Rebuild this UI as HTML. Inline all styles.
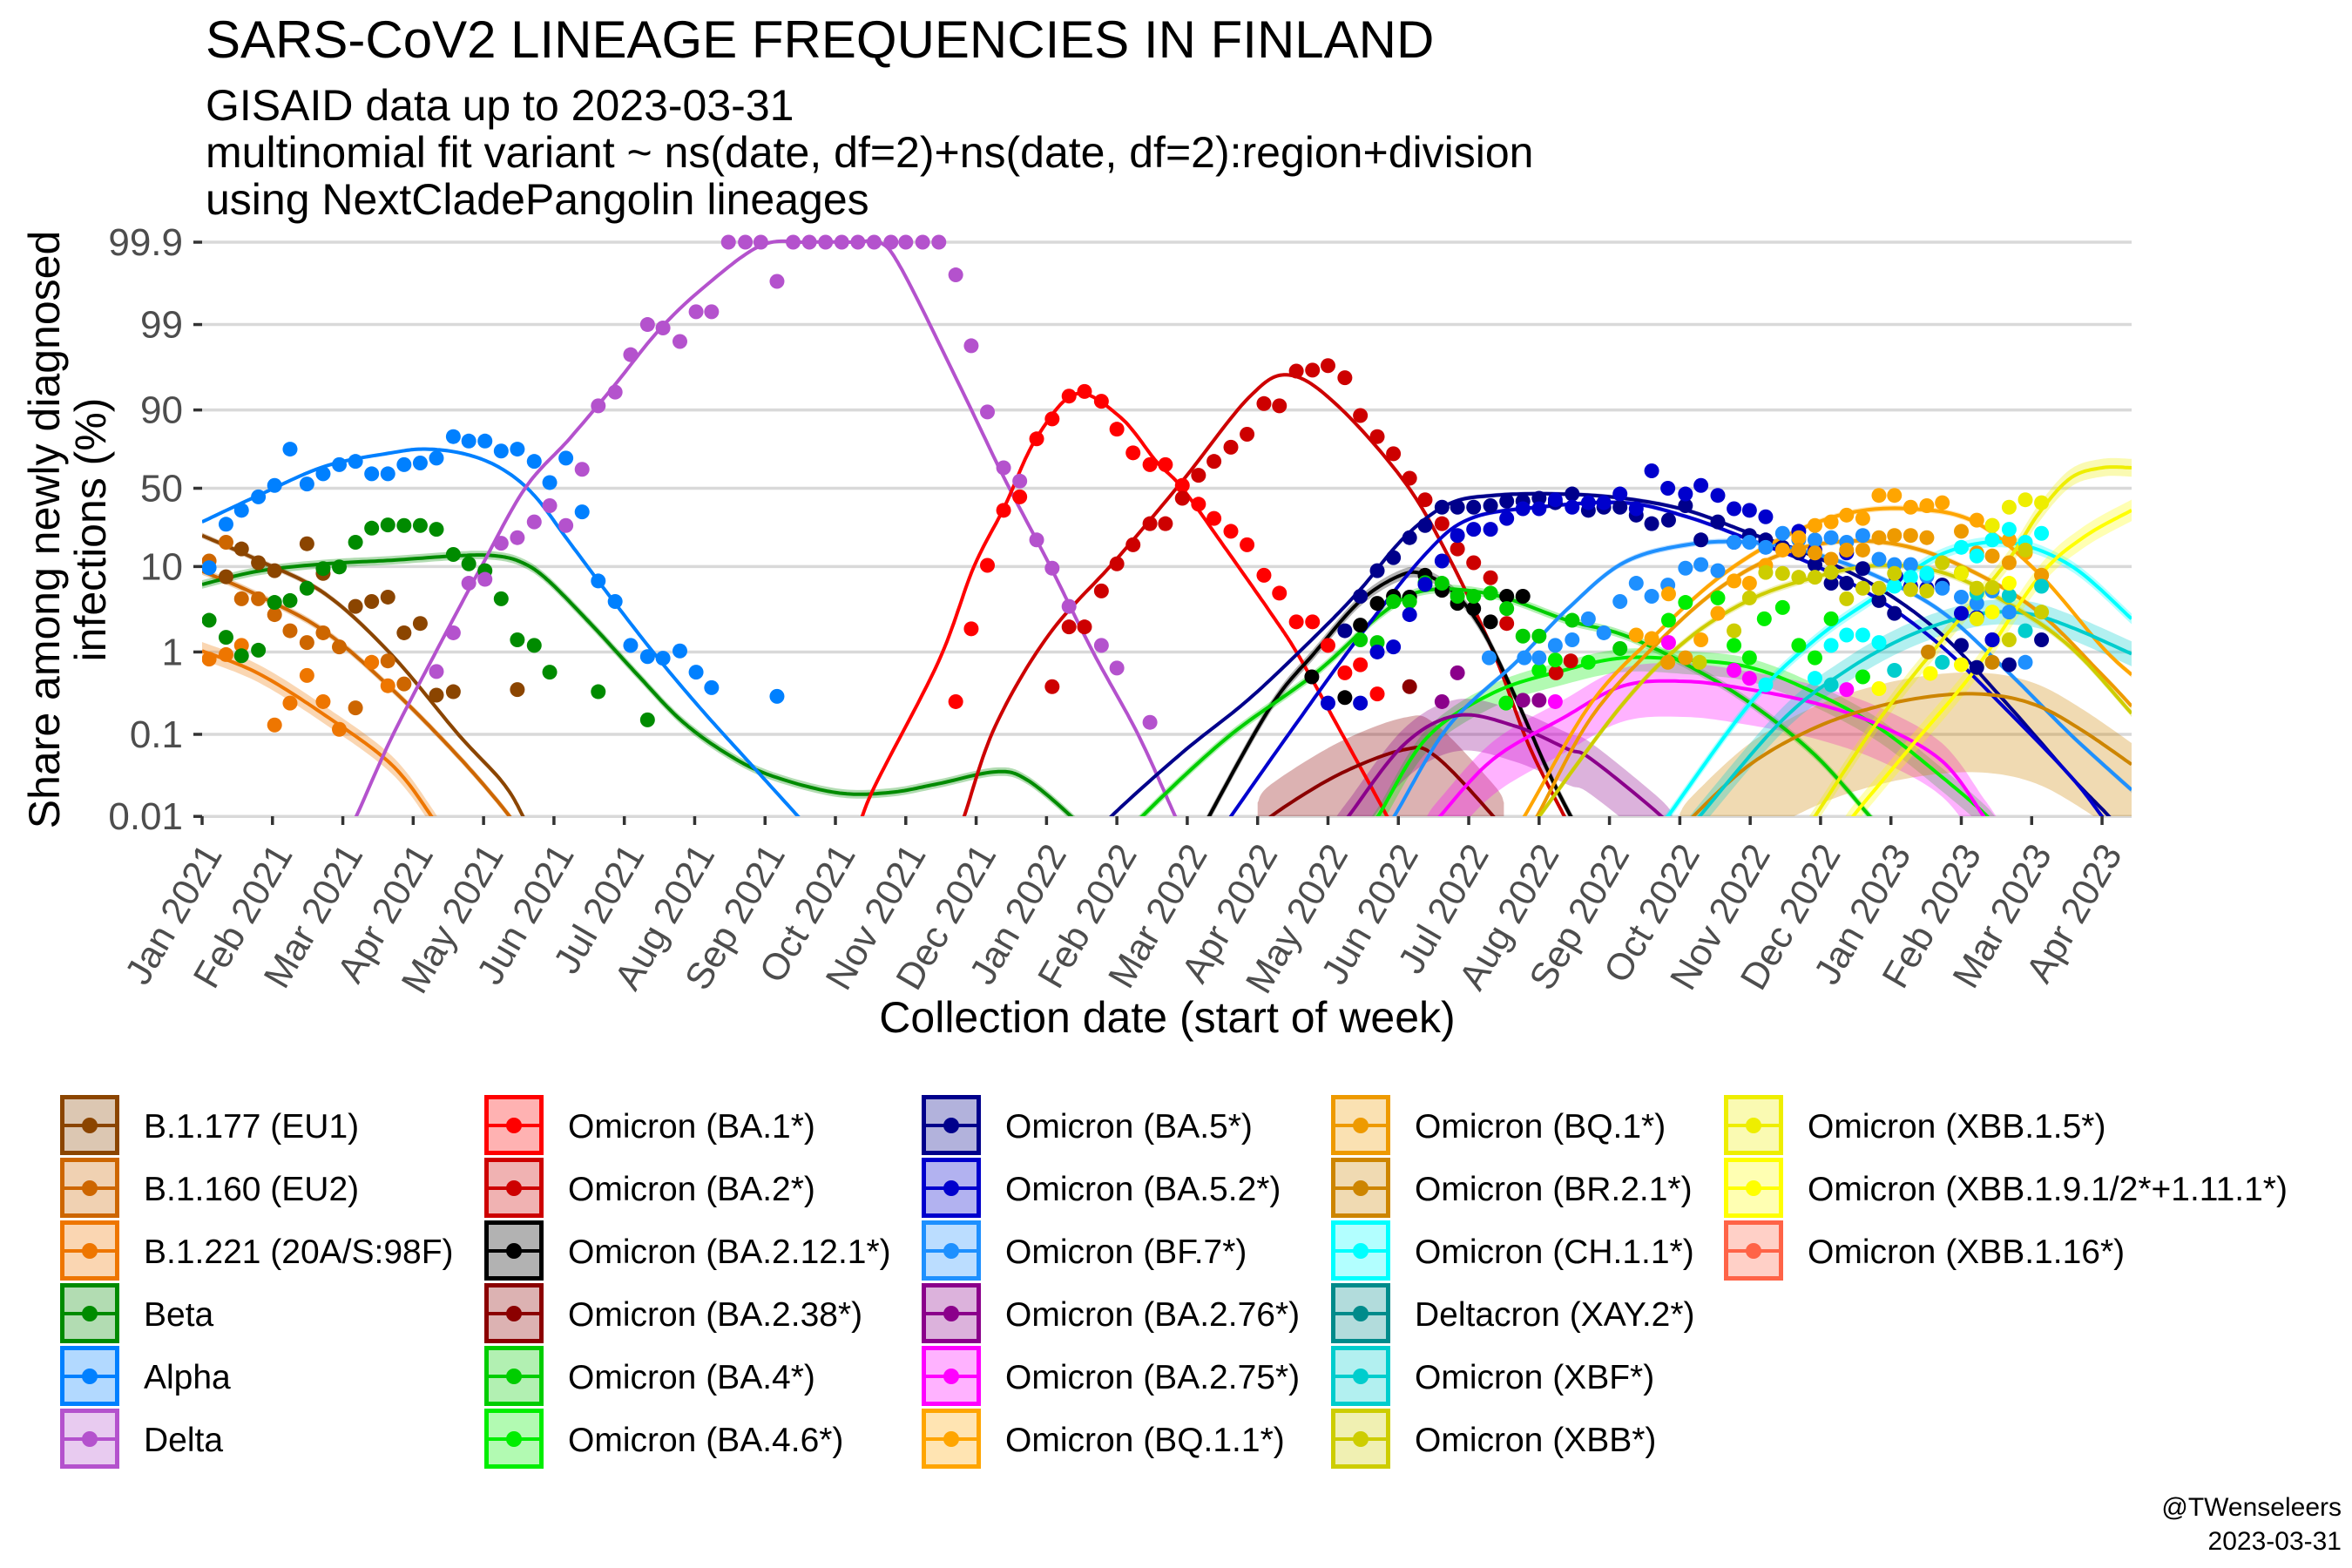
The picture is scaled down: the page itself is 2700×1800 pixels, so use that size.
<!DOCTYPE html>
<html><head><meta charset="utf-8"><title>SARS-CoV2 lineage frequencies in Finland</title>
<style>
html,body{margin:0;padding:0;background:#fff;}
svg{display:block;font-family:"Liberation Sans",Arial,sans-serif;}
</style></head>
<body>
<svg id="chart" width="2700" height="1800" viewBox="0 0 2700 1800" xmlns="http://www.w3.org/2000/svg">
<defs><clipPath id="panelClip"><rect x="232" y="240" width="2215" height="697"/></clipPath></defs>
<rect width="2700" height="1800" fill="#fff"/>
<text x="236" y="66" font-size="60" fill="#000">SARS-CoV2 LINEAGE FREQUENCIES IN FINLAND</text>
<text x="236" y="138" font-size="50" fill="#000">GISAID data up to 2023-03-31</text>
<text x="236" y="192" font-size="50" fill="#000">multinomial fit variant ~ ns(date, df=2)+ns(date, df=2):region+division</text>
<text x="236" y="246" font-size="50" fill="#000">using NextCladePangolin lineages</text>
<g id="grid"></g>
<g id="yaxis"></g>
<g id="xaxis"></g>
<g clip-path="url(#panelClip)">
<g id="ribbons"></g>
<g id="lines"></g>
<g id="points"></g>
</g>
<text transform="translate(68,608) rotate(-90)" text-anchor="middle" font-size="50" fill="#000">Share among newly diagnosed</text>
<text transform="translate(121,608) rotate(-90)" text-anchor="middle" font-size="50" fill="#000">infections (%)</text>
<text x="1340" y="1185" text-anchor="middle" font-size="50" fill="#000">Collection date (start of week)</text>
<g id="legend"></g>
<text x="2688" y="1740" text-anchor="end" font-size="30" fill="#000">@TWenseleers</text>
<text x="2688" y="1779" text-anchor="end" font-size="30" fill="#000">2023-03-31</text>
</svg>
<script>
// ---------- axis data ----------
const yTickValues = [99.9, 99, 90, 50, 10, 1, 0.1, 0.01];
const yTickLabels = ["99.9", "99", "90", "50", "10", "1", "0.1", "0.01"];
const xTickMonths = [0,1,2,3,4,5,6,7,8,9,10,11,12,13,14,15,16,17,18,19,20,21,22,23,24,25,26,27];
const xTickLabels = ["Jan 2021","Feb 2021","Mar 2021","Apr 2021","May 2021","Jun 2021","Jul 2021","Aug 2021","Sep 2021","Oct 2021","Nov 2021","Dec 2021","Jan 2022","Feb 2022","Mar 2022","Apr 2022","May 2022","Jun 2022","Jul 2022","Aug 2022","Sep 2022","Oct 2022","Nov 2022","Dec 2022","Jan 2023","Feb 2023","Mar 2023","Apr 2023"];

// ---------- series data (months since Jan 2021, percent) ----------
const b1177FitM = [0,0.8,1.75,2.69,3.64,4.27,4.56,4.75];
const b1177FitP = [21,11.7,4.9,0.93,0.1,0.026,0.01,0.004];
const b1177PtM = [0.34,0.56,0.8,1.03,1.49,1.72,2.18,2.41,2.64,2.87,3.1,3.33,3.57,4.48];
const b1177PtP = [7.7,15.4,11,9,17.4,8.4,3.5,4,4.5,1.7,2.2,0.3,0.33,0.35];

const b1160FitM = [0,0.8,1.75,2.69,3.64,4.37,4.55];
const b1160FitP = [8.9,4.7,1.75,0.36,0.054,0.01,0.005];
const b1160PtM = [0.1,0.34,0.56,0.8,1.03,1.25,1.49,1.72,1.95,2.18,2.64,2.87];
const b1160PtP = [11.5,18,4.3,4.3,2.8,1.8,1.3,1.7,1.15,0.21,0.78,0.41];

const b1221FitM = [0,0.8,1.75,2.69,3.26,3.45];
const b1221FitP = [1.03,0.55,0.17,0.043,0.01,0.005];
const b1221PtM = [0.1,0.34,0.56,1.03,1.25,1.49,1.72,1.95,2.41,2.64];
const b1221PtP = [0.82,0.93,1.2,0.13,0.24,0.52,0.25,0.115,0.75,0.39];

const betaFitM = [0,0.8,1.75,2.69,3.64,4.15,4.53,4.9,5.54,6.17,6.8,7.43,8.06,9.01,9.76,10.46,11.28,11.72,12.35,12.55];
const betaFitP = [6.3,8.9,10.7,11.7,13.1,13.1,11.2,7.2,2.1,0.55,0.15,0.06,0.032,0.0195,0.0195,0.025,0.035,0.028,0.01,0.006];
const betaPtM = [0.1,0.34,0.56,0.8,1.03,1.25,1.49,1.72,1.95,2.18,2.41,2.64,2.87,3.1,3.33,3.57,3.79,4.02,4.25,4.48,4.72,4.94,5.63,6.33];
const betaPtP = [2.4,1.5,0.9,1.05,3.9,4.1,5.7,9.5,9.9,18,24.6,26.3,26,26,24,13.5,10.7,9,4.3,1.4,1.2,0.57,0.33,0.15];

const alphaFitM = [0,0.8,1.75,2.69,3.2,3.77,4.27,4.72,5.22,5.85,6.48,7.12,7.75,8.47,8.7];
const alphaFitP = [28,45,65,73,75,72,63,45,18,4,0.84,0.19,0.048,0.01,0.006];
const alphaPtM = [0.1,0.34,0.56,0.8,1.03,1.25,1.49,1.72,1.95,2.18,2.41,2.64,2.87,3.1,3.33,3.57,3.79,4.02,4.25,4.48,4.72,4.94,5.17,5.4,5.63,5.87,6.09,6.33,6.55,6.79,7.02,7.24,8.17];
const alphaPtP = [9.7,26.7,35,44,52,75,53,60,66,68,60,60,66,67,70,81,79,79,74,75,68,54,70,34,6.9,4,1.2,0.88,0.84,1.03,0.57,0.37,0.29];

const deltaFitM = [2.0,2.19,2.69,3.33,3.96,4.59,5.22,5.85,6.48,7.12,7.94,8.6,9.3,9.63,9.95,10.77,11.4,12.03,12.66,13.3,13.83,14.0];
const deltaFitP = [0.005,0.01,0.09,1.03,9.7,50,80,94.6,98.8,99.64,99.89,99.9,99.9,99.9,99.78,94.6,57,10.9,1,0.1,0.01,0.005];
const deltaPtM = [3.33,3.57,3.79,4.02,4.25,4.48,4.72,4.94,5.17,5.4,5.63,5.87,6.09,6.33,6.55,6.79,7.02,7.24,7.48,7.72,7.94,8.17,8.4,8.63,8.86,9.09,9.32,9.55,9.79,10.0,10.24,10.47,10.71,10.93,11.16,11.39,11.62,11.86,12.08,12.32,12.78,13.0,13.47];
const deltaPtP = [0.58,1.7,6.5,7.2,17.6,20,28,38,26,63,91,93.7,97.7,99,98.9,98.4,99.3,99.3,99.9,99.9,99.9,99.7,99.9,99.9,99.9,99.9,99.9,99.9,99.9,99.9,99.9,99.9,99.75,98.2,89.5,64,55,19,9.6,3.5,1.2,0.64,0.14];

const ba1FitM = [9.3,9.51,10.46,10.96,11.4,11.85,12.42,13.05,13.56,13.93,14.56,15.19,15.57,16.14,16.84,17.0];
const ba1FitP = [0.005,0.019,0.75,9.6,37,80,93.4,88,68,50,15,2.9,0.94,0.125,0.01,0.005];
const ba1PtM = [10.71,10.93,11.16,11.39,11.62,11.86,12.08,12.32,12.54,12.78,13.0,13.23,13.47,13.69,13.93,14.16,14.38,14.62,14.85,15.09,15.31,15.55,15.78,16.0,16.24,16.46,16.7];
const ba1PtP = [0.25,1.9,10.3,35,44,80,87.5,93,93.8,92,84,73,66,66,52,39,30,23,17,8,5,2.3,2.3,1.2,0.56,0.7,0.31];

const ba2FitM = [10.7,10.83,11.27,12.03,12.99,13.93,14.88,15.45,16.14,17.08,17.71,18.35,18.85,19.36,19.5];
const ba2FitP = [0.005,0.01,0.125,1.6,11.9,55,92.8,96,91,55,12.9,1,0.075,0.01,0.006];
const ba2PtM = [12.08,12.32,12.54,12.78,13.0,13.23,13.47,13.69,13.93,14.16,14.38,14.62,14.85,15.09,15.31,15.55,15.78,16.0,16.24,16.46,16.7,16.93,17.16,17.38,17.62,17.84,18.07,18.31,18.54,19.24,19.45];
const ba2PtP = [0.38,2,2,5.3,10.7,17,27,27,43,59,68,76,82,91.5,91,96.4,96.5,96.9,95.7,88.5,81,72.5,57,42,27,15.4,11,7.5,2.2,0.56,0.78];

const ba2121FitM = [14.2,14.31,15.19,15.82,16.45,17.0,17.35,17.8,18.2,18.65,19.1,19.45,19.6];
const ba2121FitP = [0.006,0.01,0.22,1,4,7.8,8.3,5,1.8,0.3,0.04,0.01,0.006];
const ba2121PtM = [15.77,16.24,16.46,16.7,16.93,17.16,17.38,17.62,17.84,18.07,18.31,18.54,18.77];
const ba2121PtP = [0.5,0.28,2.1,3.8,4.6,4.5,8,5.4,3.8,3.3,2.3,4.6,4.6];

const ba238FitM = [15.0,15.19,16.14,17.08,17.53,18.35,18.5];
const ba238FitP = [0.006,0.01,0.032,0.065,0.054,0.01,0.006];
const ba238PtM = [17.16];
const ba238PtP = [0.38];

const ba4FitM = [13.2,13.36,14.56,15.82,16.77,17.4,18.35,19.4,20.2,21.1,22.0,22.92,23.7,23.9];
const ba4FitP = [0.006,0.01,0.09,0.55,2.9,5.4,4.8,2.4,1.6,0.7,0.24,0.056,0.01,0.006];
const ba4PtM = [16.46,16.7,16.93,17.16,17.38,17.62,17.84,18.07,18.31,18.54,18.77,19.0,19.47,20.15];
const ba4PtP = [1.4,1.3,4,4,6.6,6.5,4.6,4.6,5,3.3,1.55,1.55,2.4,1.1];

const ba46FitM = [16.5,16.71,17.4,18.35,19.35,20.2,21.1,22.0,22.92,23.83,24.73,25.37,25.55];
const ba46FitP = [0.006,0.01,0.09,0.32,0.6,0.85,0.8,0.65,0.32,0.12,0.03,0.01,0.006];
const ba46PtM = [18.53,19.0,19.23,19.7,20.84,21.08,21.54,21.77,21.99,22.2,22.46,22.69,22.92,23.15,23.6];
const ba46PtP = [0.24,0.6,0.8,0.75,2.4,3.9,4.4,1.2,0.85,2.5,3.4,1.2,0.85,2.5,0.5];

const ba5FitM = [12.75,12.92,13.93,14.88,15.82,16.45,17.08,17.71,18.35,19.29,20.2,21.1,22.0,22.92,23.83,24.73,25.64,26.55,27.1,27.3];
const ba5FitP = [0.006,0.01,0.06,0.27,1.55,5.4,20,39,45,46,43,35,22,12.8,5.7,1.6,0.24,0.031,0.01,0.006];
const ba5PtM = [16.24,16.46,16.7,16.93,17.16,17.38,17.62,17.84,18.07,18.31,18.54,18.77,19.0,19.23,19.47,19.7,19.92,20.15,20.38,20.6,20.84,21.08,21.3,21.54,21.77,21.99,22.22,22.46,22.69,22.92,23.15,23.37,23.6,23.83,24.05,24.73,25.0,25.22,25.44,25.68,26.14];
const ba5PtP = [1.8,4.6,9,12.5,20,26,37,37,37,38,41,41,43,40,46,35,37,37,32,27,29,38,19,28,18,21,19,16,14,10.5,6.5,6.5,9.5,4.1,2.9,6.2,1.2,0.65,1.4,0.7,1.4];

const ba52FitM = [14.45,14.62,15.52,16.45,17.4,18.03,18.98,20.2,21.1,22.0,22.92,23.83,24.73,25.64,26.55,27.0,27.2];
const ba52FitP = [0.006,0.01,0.125,1.55,14,30,37,40,31,19,10.3,4.2,1.15,0.2,0.031,0.01,0.006];
const ba52PtM = [16.0,16.46,16.7,16.93,17.16,17.38,17.62,17.84,18.07,18.31,18.54,18.77,19.0,19.23,19.47,19.7,19.92,20.15,20.38,20.6,20.83,21.08,21.3,21.54,21.77,21.99,22.22,22.69,22.92,23.37,24.07,24.28,24.51,25.0,25.22,25.44];
const ba52PtP = [0.24,0.24,1,1.15,2.8,6.3,11.5,21,24,24,30,36,36,42,37,40,40,46,36,62,50,46,52,45,36,35,31,23,15,14,7.8,6,5.7,2.9,2.6,1.4];

const bf7FitM = [16.75,16.94,17.71,18.67,19.41,20.2,21.1,22.0,22.92,23.83,24.73,25.64,26.55,27.42];
const bf7FitP = [0.006,0.01,0.125,0.75,3.3,11,17,18,13.7,7.6,3,0.6,0.1,0.021];
const bf7PtM = [18.29,18.79,19.0,19.23,19.47,19.7,19.92,20.15,20.38,20.6,20.83,21.08,21.3,21.54,21.77,21.99,22.22,22.46,22.69,22.92,23.15,23.37,23.6,23.83,24.05,24.28,24.51,24.73,25.0,25.22,25.44,25.68,25.91];
const bf7PtP = [0.85,0.85,0.85,1.2,1.4,2.5,1.7,4,6.5,4.6,6.2,9.6,10.5,9,18,18,16,22,19,19,20,18,21,12,10.5,10.5,7.8,5.7,4.5,3.8,5.3,3,0.75];

const ba276FitM = [16.1,16.29,17.08,17.84,18.67,19.41,19.74,20.74,20.9];
const ba276FitP = [0.006,0.01,0.075,0.17,0.125,0.066,0.05,0.01,0.006];
const ba276PtM = [17.62,17.84,18.77,19.0];
const ba276PtP = [0.25,0.56,0.26,0.26];

const ba275FitM = [17.4,17.59,18.35,19.35,20.2,21.1,22.0,22.92,23.83,24.73,25.32,25.5];
const ba275FitP = [0.006,0.01,0.05,0.16,0.39,0.44,0.35,0.24,0.13,0.047,0.01,0.006];
const ba275PtM = [19.23,20.84,21.77,21.99,23.37];
const ba275PtP = [0.25,1.3,0.6,0.48,0.35];

const bq11FitM = [18.6,18.79,19.74,20.65,21.56,22.46,23.37,24.28,25.19,26.1,27.0,27.42];
const bq11FitP = [0.006,0.01,0.24,1.6,7.6,20,33,36,28,8.4,1.15,0.53];
const bq11PtM = [20.38,20.6,20.84,21.3,21.54,21.77,21.99,22.22,22.46,22.69,22.92,23.15,23.37,23.6,23.83,24.05,24.28,24.51,24.73,25.22,25.44,25.68,25.91,26.14];
const bq11PtP = [1.6,1.45,4.9,1.4,2.9,6.9,6.5,10.3,15,20,26,28,32,30,45,45,37,38,40,29,26,19,14,8];

const bq1FitM = [18.8,18.97,19.74,20.65,21.56,22.46,23.37,24.28,25.19,26.1,27.0,27.42];
const bq1FitP = [0.006,0.01,0.16,1.2,5.7,13.7,18.5,16,8.6,3,0.53,0.22];
const bq1PtM = [20.83,21.08,22.69,22.92,23.15,23.37,23.6,23.83,24.05,24.28,24.51,25.0,25.22,25.44,25.68,26.14];
const bq1PtP = [0.75,0.85,15,14,12,15,15,20,21,21,20,23,14,13,11,8];

const br21FitM = [21.0,21.19,22.0,22.92,23.83,24.73,25.46,26.1,26.73,27.42];
const br21FitP = [0.006,0.01,0.043,0.12,0.22,0.3,0.3,0.22,0.11,0.043];
const br21PtM = [24.53,25.44];
const br21PtP = [1,0.75];

const ch11FitM = [20.65,20.83,22.0,22.92,23.83,24.73,25.64,26.55,27.42];
const ch11FitP = [0.006,0.01,0.24,1.4,4.8,13.7,18,10.3,2.5];
const ch11PtM = [22.22,22.92,23.15,23.37,23.6,23.83,24.05,24.28,24.51,25.0,25.22,25.44,25.68,25.91,26.14];
const ch11PtP = [0.4,0.48,1.2,1.6,1.6,1.3,6,7.6,8.4,16,13,19,24,18,22];

const xbfFitM = [21.1,21.28,22.46,23.37,24.28,25.19,25.91,26.55,27.42];
const xbfFitP = [0.006,0.01,0.15,0.6,1.6,2.8,2.9,2,0.95];
const xbfPtM = [23.15,24.05,24.73,25.22,25.68,25.91,26.14];
const xbfPtP = [0.4,0.6,0.75,5,4.7,1.8,6];

const xbbFitM = [18.8,19.0,20.2,21.1,22.0,22.92,23.83,24.73,25.64,26.55,27.42];
const xbbFitP = [0.006,0.01,0.24,1.4,4.2,7.6,10.3,8.6,3.9,1.15,0.18];
const xbbPtM = [21.28,21.77,21.99,22.22,22.46,22.69,22.92,23.15,23.37,23.6,23.83,24.05,24.28,24.51,24.73,25.0,25.22,25.44,25.68,25.91,26.14];
const xbbPtP = [0.75,1.8,4.4,8.6,8.4,7.6,7.6,8.6,4.3,5.7,5.7,8.4,5.5,5.3,11,8.6,5.7,5.8,1.4,15,3];

const xbb15FitM = [22.75,22.92,23.83,24.73,25.64,26.1,26.55,27.0,27.42];
const xbb15FitP = [0.006,0.01,0.15,1.4,11,33,57,64,64];
const xbb15PtM = [25.0,25.22,25.44,25.68,25.91,26.14];
const xbb15PtP = [8.4,2.5,26,37,42,40];

const xbb19FitM = [23.3,23.46,24.28,25.19,26.1,26.73,27.42];
const xbb19FitP = [0.006,0.01,0.07,0.6,7.6,20,35];
const xbb19PtM = [23.83,24.56,25.0,25.44,25.68];
const xbb19PtP = [0.36,0.55,0.7,3,6.5];

const emptyM = [];
const emptyP = [];

const series = [
 {key:"b1177", label:"B.1.177 (EU1)", color:"#8B4500", fitM:b1177FitM, fitP:b1177FitP, ptM:b1177PtM, ptP:b1177PtP, up:0.08, lo:0.08},
 {key:"b1160", label:"B.1.160 (EU2)", color:"#CD6600", fitM:b1160FitM, fitP:b1160FitP, ptM:b1160PtM, ptP:b1160PtP, up:0.1, lo:0.1},
 {key:"b1221", label:"B.1.221 (20A/S:98F)", color:"#EE7600", fitM:b1221FitM, fitP:b1221FitP, ptM:b1221PtM, ptP:b1221PtP, up:0.25, lo:0.25},
 {key:"beta", label:"Beta", color:"#008B00", fitM:betaFitM, fitP:betaFitP, ptM:betaPtM, ptP:betaPtP, up:0.12, lo:0.12},
 {key:"alpha", label:"Alpha", color:"#0080FF", fitM:alphaFitM, fitP:alphaFitP, ptM:alphaPtM, ptP:alphaPtP, up:0.05, lo:0.05},
 {key:"delta", label:"Delta", color:"#B452CD", fitM:deltaFitM, fitP:deltaFitP, ptM:deltaPtM, ptP:deltaPtP, up:0.05, lo:0.05},
 {key:"ba1", label:"Omicron (BA.1*)", color:"#FF0000", fitM:ba1FitM, fitP:ba1FitP, ptM:ba1PtM, ptP:ba1PtP, up:0.05, lo:0.05},
 {key:"ba2", label:"Omicron (BA.2*)", color:"#CD0000", fitM:ba2FitM, fitP:ba2FitP, ptM:ba2PtM, ptP:ba2PtP, up:0.05, lo:0.05},
 {key:"ba2121", label:"Omicron (BA.2.12.1*)", color:"#000000", fitM:ba2121FitM, fitP:ba2121FitP, ptM:ba2121PtM, ptP:ba2121PtP, up:0.15, lo:0.15},
 {key:"ba238", label:"Omicron (BA.2.38*)", color:"#8B0000", fitM:ba238FitM, fitP:ba238FitP, ptM:ba238PtM, ptP:ba238PtP, up:0.9, lo:2.0},
 {key:"ba4", label:"Omicron (BA.4*)", color:"#00CD00", fitM:ba4FitM, fitP:ba4FitP, ptM:ba4PtM, ptP:ba4PtP, up:0.12, lo:0.12},
 {key:"ba46", label:"Omicron (BA.4.6*)", color:"#00EE00", fitM:ba46FitM, fitP:ba46FitP, ptM:ba46PtM, ptP:ba46PtP, up:0.25, lo:0.4},
 {key:"ba5", label:"Omicron (BA.5*)", color:"#00008B", fitM:ba5FitM, fitP:ba5FitP, ptM:ba5PtM, ptP:ba5PtP, up:0.06, lo:0.06},
 {key:"ba52", label:"Omicron (BA.5.2*)", color:"#0000CD", fitM:ba52FitM, fitP:ba52FitP, ptM:ba52PtM, ptP:ba52PtP, up:0.06, lo:0.06},
 {key:"bf7", label:"Omicron (BF.7*)", color:"#1E90FF", fitM:bf7FitM, fitP:bf7FitP, ptM:bf7PtM, ptP:bf7PtP, up:0.08, lo:0.08},
 {key:"ba276", label:"Omicron (BA.2.76*)", color:"#8B008B", fitM:ba276FitM, fitP:ba276FitP, ptM:ba276PtM, ptP:ba276PtP, up:0.45, lo:1.0},
 {key:"ba275", label:"Omicron (BA.2.75*)", color:"#FF00FF", fitM:ba275FitM, fitP:ba275FitP, ptM:ba275PtM, ptP:ba275PtP, up:0.5, lo:1.0},
 {key:"bq11", label:"Omicron (BQ.1.1*)", color:"#FFA500", fitM:bq11FitM, fitP:bq11FitP, ptM:bq11PtM, ptP:bq11PtP, up:0.08, lo:0.08},
 {key:"bq1", label:"Omicron (BQ.1*)", color:"#EE9A00", fitM:bq1FitM, fitP:bq1FitP, ptM:bq1PtM, ptP:bq1PtP, up:0.08, lo:0.08},
 {key:"br21", label:"Omicron (BR.2.1*)", color:"#CD8500", fitM:br21FitM, fitP:br21FitP, ptM:br21PtM, ptP:br21PtP, up:0.6, lo:2.2},
 {key:"ch11", label:"Omicron (CH.1.1*)", color:"#00FFFF", fitM:ch11FitM, fitP:ch11FitP, ptM:ch11PtM, ptP:ch11PtP, up:0.15, lo:0.15},
 {key:"xay2", label:"Deltacron (XAY.2*)", color:"#008B8B", fitM:emptyM, fitP:emptyP, ptM:emptyM, ptP:emptyP, up:0, lo:0},
 {key:"xbf", label:"Omicron (XBF*)", color:"#00CDCD", fitM:xbfFitM, fitP:xbfFitP, ptM:xbfPtM, ptP:xbfPtP, up:0.35, lo:0.35},
 {key:"xbb", label:"Omicron (XBB*)", color:"#CDCD00", fitM:xbbFitM, fitP:xbbFitP, ptM:xbbPtM, ptP:xbbPtP, up:0.1, lo:0.1},
 {key:"xbb15", label:"Omicron (XBB.1.5*)", color:"#EEEE00", fitM:xbb15FitM, fitP:xbb15FitP, ptM:xbb15PtM, ptP:xbb15PtP, up:0.25, lo:0.25},
 {key:"xbb19", label:"Omicron (XBB.1.9.1/2*+1.11.1*)", color:"#FFFF00", fitM:xbb19FitM, fitP:xbb19FitP, ptM:xbb19PtM, ptP:xbb19PtP, up:0.3, lo:0.3},
 {key:"xbb116", label:"Omicron (XBB.1.16*)", color:"#FF6347", fitM:emptyM, fitP:emptyP, ptM:emptyM, ptP:emptyP, up:0, lo:0}
];
const legendColumns = [[0,1,2,3,4,5],[6,7,8,9,10,11],[12,13,14,15,16,17],[18,19,20,21,22,23],[24,25,26]];

// ---------- scales ----------
const NS = "http://www.w3.org/2000/svg";
const X0 = 232, PXM = 80.78, Y50 = 560.5, PXL = 40.9, YBOT = 937, XRIGHT = 2447;
function xs(m){ return X0 + PXM * m; }
function logit(p){ const q = p/100; return Math.log(q/(1-q)); }
function ys(p){ return Y50 - PXL * logit(p); }
function yl(L){ return Y50 - PXL * L; }
function mk(tag, attrs, parent){ const e = document.createElementNS(NS, tag); for (const k in attrs) e.setAttribute(k, attrs[k]); parent.appendChild(e); return e; }

function sampleCurve(ms, ps){
  const pts = ms.map((m,i)=>[xs(m), logit(ps[i])]);
  const out = [];
  for (let i=0;i<pts.length-1;i++){
    const p0 = pts[Math.max(0,i-1)], p1 = pts[i], p2 = pts[i+1], p3 = pts[Math.min(pts.length-1,i+2)];
    const N = 16;
    for (let k=0;k<N;k++){
      const t = k/N, t2=t*t, t3=t2*t;
      const f = (a,b,c,d)=>0.5*((2*b)+(-a+c)*t+(2*a-5*b+4*c-d)*t2+(-a+3*b-3*c+d)*t3);
      out.push([f(p0[0],p1[0],p2[0],p3[0]), f(p0[1],p1[1],p2[1],p3[1])]);
    }
  }
  out.push(pts[pts.length-1]);
  return out;
}

const grid = document.getElementById("grid");
const yaxis = document.getElementById("yaxis");
const xaxis = document.getElementById("xaxis");
yTickValues.forEach((v,i)=>{
  const y = ys(v);
  const g = mk("line", {x1:X0, x2:XRIGHT, y1:y, y2:y, stroke:"#D9D9D9", "stroke-width":3.5}, grid);
  
  
  const t = mk("line", {x1:X0-10, x2:X0, y1:y, y2:y, stroke:"#333", "stroke-width":3.5}, yaxis);
  
  
  const lb = mk("text", {x:210, y:y+15, "text-anchor":"end", "font-size":44, fill:"#4D4D4D"}, yaxis);
  lb.textContent = yTickLabels[i];
  
  
});
xTickMonths.forEach((m,i)=>{
  const x = xs(m);
  const t = mk("line", {x1:x, x2:x, y1:YBOT, y2:YBOT+10, stroke:"#333", "stroke-width":3.5}, xaxis);
  
  
  const lb = mk("text", {transform:`translate(${x+24},980) rotate(-60)`, "text-anchor":"end", "font-size":43, fill:"#4D4D4D"}, xaxis);
  lb.textContent = xTickLabels[i];
  
  
});

const ribbons = document.getElementById("ribbons");
const lines = document.getElementById("lines");
const points = document.getElementById("points");
series.forEach(s=>{
  if (s.fitM.length > 1){
    const c = sampleCurve(s.fitM, s.fitP);
    if (s.up > 0){
      const upper = c.map(p=>`${p[0].toFixed(1)},${yl(p[1]+s.up).toFixed(1)}`);
      const lower = c.slice().reverse().map(p=>`${p[0].toFixed(1)},${yl(p[1]-s.lo).toFixed(1)}`);
      const r = mk("polygon", {points: upper.concat(lower).join(" "), fill:s.color, "fill-opacity":0.3, stroke:"none"}, ribbons);
      
      
    }
    const d = c.map((p,i)=>(i?"L":"M")+p[0].toFixed(1)+","+yl(p[1]).toFixed(1)).join("");
    const ln = mk("path", {d:d, fill:"none", stroke:s.color, "stroke-width":4, "stroke-linejoin":"round"}, lines);
    
    
  }
  s.ptM.forEach((m,i)=>{
    const ci = mk("circle", {cx:xs(m), cy:ys(s.ptP[i]), r:8.5, fill:s.color}, points);
    
    
  });
});

const legend = document.getElementById("legend");
const colX = [69, 556, 1058, 1528, 1979];
legendColumns.forEach((col,ci)=>{
  col.forEach((idx,ri)=>{
    const s = series[idx];
    const x = colX[ci], y = 1257 + ri*72;
    const g = mk("g", {}, legend);
    
    
    mk("rect", {x:x+2.5, y:y+2.5, width:63, height:64, fill:"#fff", stroke:"none"}, g);
    const box = mk("rect", {x:x+2.5, y:y+2.5, width:63, height:64, fill:s.color, "fill-opacity":0.3, stroke:s.color, "stroke-width":5}, g);
    
    
    mk("line", {x1:x+5, x2:x+63, y1:y+35, y2:y+35, stroke:s.color, "stroke-width":4}, g);
    mk("circle", {cx:x+34, cy:y+35, r:9, fill:s.color}, g);
    const t = mk("text", {x:x+96, y:y+49, "font-size":39, fill:"#000"}, g);
    t.textContent = s.label;
    
    
  });
});
</script>
</body></html>
